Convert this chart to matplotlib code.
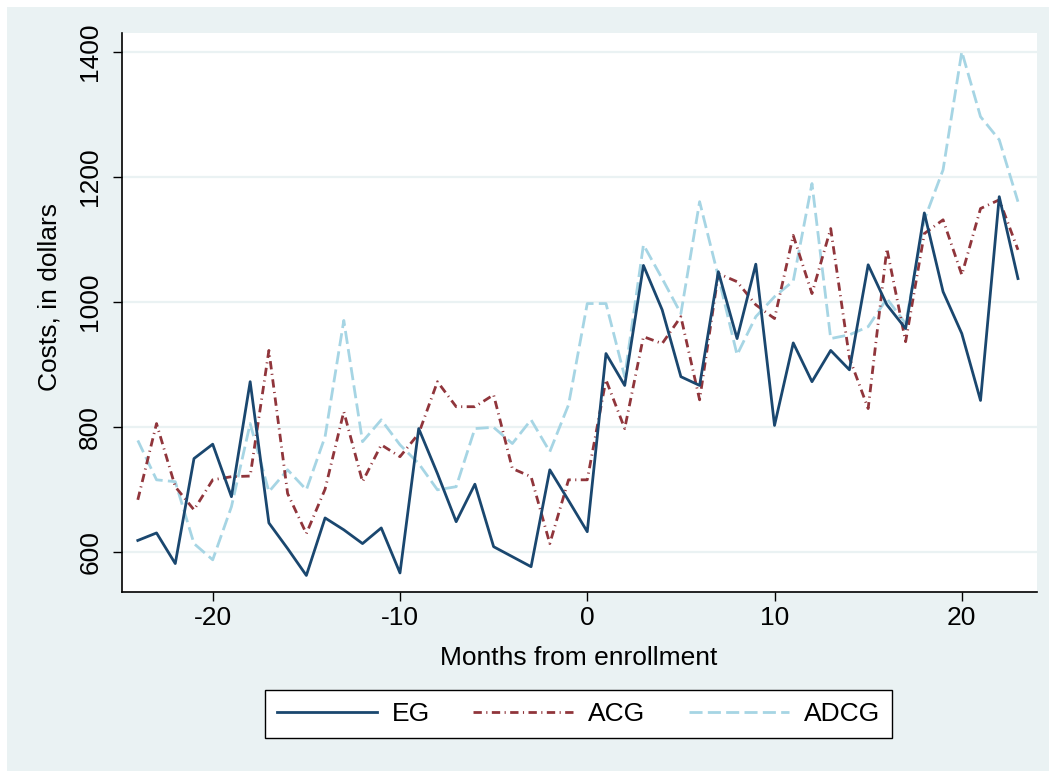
import matplotlib
matplotlib.use("Agg")
import matplotlib.pyplot as plt
from matplotlib.patches import Rectangle

months = list(range(-24, 24))
eg = [618, 630, 581, 749, 772, 688, 872, 646, 605, 562, 654, 635,
      613, 638, 566, 797, 725, 648, 708, 608, 592, 576, 731, 682,
      632, 917, 866, 1058, 987, 880, 866, 1048, 941, 1060, 802, 934,
      872, 922, 891, 1059, 995, 957, 1142, 1016, 949, 842, 1168, 1037]
acg = [683, 805, 704, 667, 715, 720, 721, 922, 693, 629, 700, 824,
       712, 771, 752, 789, 872, 832, 832, 851, 733, 720, 613, 715,
       715, 875, 797, 944, 933, 976, 843, 1045, 1032, 995, 973, 1106,
       1013, 1117, 910, 829, 1085, 936, 1109, 1131, 1043, 1149, 1163, 1083]
adcg = [778, 715, 712, 613, 587, 672, 805, 696, 731, 699, 784, 970,
        776, 811, 771, 741, 699, 704, 797, 799, 773, 811, 760, 835,
        997, 997, 880, 1091, 1037, 981, 1160, 1040, 915, 976, 1008, 1033,
        1189, 941, 947, 960, 1005, 965, 1131, 1211, 1400, 1296, 1259, 1160]
series_names = ["EG", "ACG", "ADCG"]
xticks = [-20, -10, 0, 10, 20]
yticks = [600, 800, 1000, 1200, 1400]

plt.rcParams['font.family'] = ['Liberation Sans', 'DejaVu Sans']
plt.rcParams['axes.unicode_minus'] = False
FS = 19
W, H = 1049, 771
fig = plt.figure(figsize=(W / 100, H / 100), dpi=100, facecolor='white')
bg = '#EAF2F3'
fig.patches.append(Rectangle((7 / W, 0), 1, 1 - 7 / H, transform=fig.transFigure,
                             facecolor=bg, edgecolor='none', zorder=-10))

left, right = 121.7 / W, 1036.7 / W
bottom, top = (H - 591.7) / H, (H - 33.3) / H
ax = fig.add_axes([left, bottom, right - left, top - bottom])
ax.set_facecolor('white')

ax.plot(months, eg, color='#1a476f', lw=2.0, label=series_names[0], zorder=5)
ax.plot(months, acg, color='#90353b', lw=2.0, dashes=(3.0, 1.6, 0.4, 1.6),
        label=series_names[1], zorder=4)
ax.plot(months, adcg, color='#a6d5e4', lw=2.0, dashes=(4.7, 1.9),
        label=series_names[2], zorder=3)

ax.set_xlim(-24.86, 24.0)
ax.set_ylim(536, 1429.4)
ax.set_xticks(xticks)
ax.set_yticks(yticks)
ax.grid(axis='y', color=bg, lw=1.6, zorder=0)
ax.set_axisbelow(True)
for s in ['top', 'right']:
    ax.spines[s].set_visible(False)
for s in ['left', 'bottom']:
    ax.spines[s].set_linewidth(1.2)
    ax.spines[s].set_color('black')
ax.tick_params(axis='both', direction='out', length=6.5, width=1.0, labelsize=FS,
               colors='black')
ax.tick_params(axis='x', pad=3.5)
ax.tick_params(axis='y', pad=7.5)
plt.setp(ax.get_yticklabels(), rotation=90, va='center')

fig.text(50 / W, (H - 297.5) / H, 'Costs, in dollars', rotation=90,
         ha='center', va='center', fontsize=FS)
fig.text(579 / W, (H - 658) / H, 'Months from enrollment',
         ha='center', va='center', fontsize=FS)

leg = fig.legend(loc='center', bbox_to_anchor=(578.5 / W, (H - 714) / H), ncol=3,
                 fontsize=FS, handlelength=3.8, handletextpad=0.55,
                 columnspacing=1.65, borderpad=0.45, fancybox=False,
                 framealpha=1, edgecolor='black', facecolor='white')
leg.get_frame().set_linewidth(1.0)

fig.savefig('out.png', dpi=100, facecolor='white')
